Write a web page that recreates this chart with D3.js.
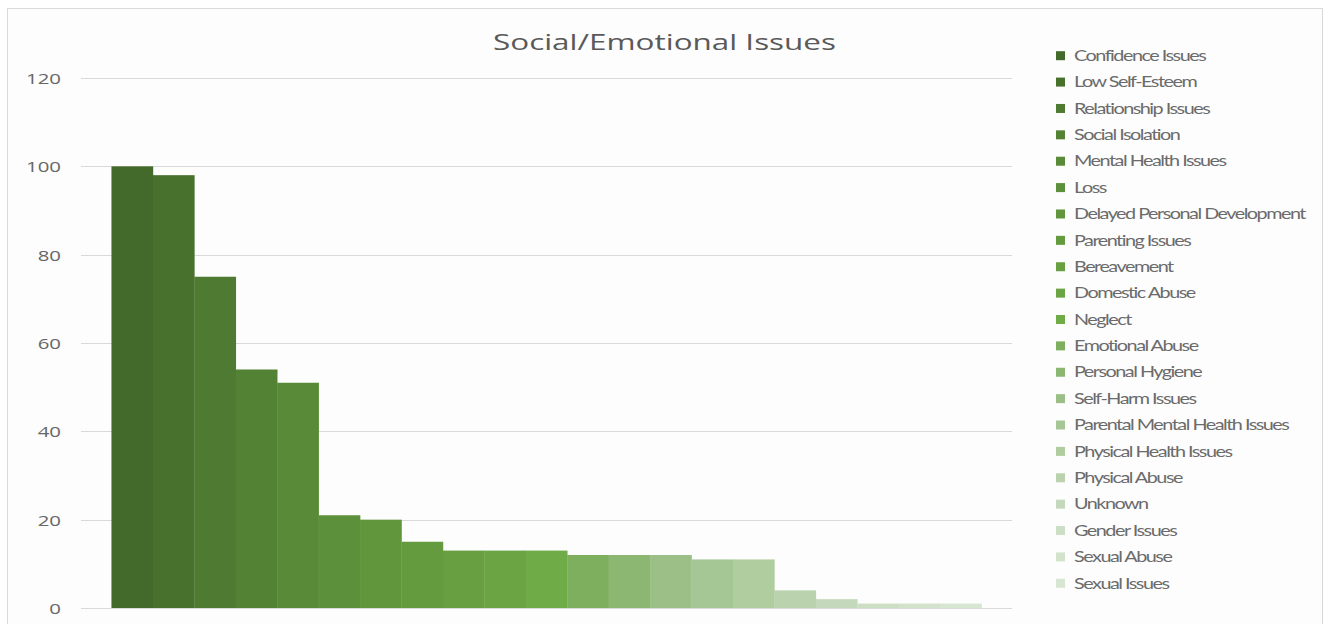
<!DOCTYPE html>
<html>
<head>
<meta charset="utf-8">
<script src="https://cdn.jsdelivr.net/npm/d3@7"></script>
<style>
  html, body { margin: 0; padding: 0; background: #ffffff; }
  svg { display: block; }
</style>
</head>
<body>
<svg id="chart" width="1329" height="624"></svg>
<script>
// Social/Emotional issues — one clustered group, one bar per issue
const categories = [
  "Confidence Issues", "Low Self-Esteem", "Relationship Issues", "Social Isolation",
  "Mental Health Issues", "Loss", "Delayed Personal Development", "Parenting Issues",
  "Bereavement", "Domestic Abuse", "Neglect", "Emotional Abuse", "Personal Hygiene",
  "Self-Harm Issues", "Parental Mental Health Issues", "Physical Health Issues",
  "Physical Abuse", "Unknown", "Gender Issues", "Sexual Abuse", "Sexual Issues"
];
const values = [100, 98, 75, 54, 51, 21, 20, 15, 13, 13, 13, 12, 12, 12, 11, 11, 4, 2, 1, 1, 1];
const colors = [
  "#446a2b", "#49712e", "#4f7a31", "#538234", "#588a37", "#5d903a", "#61963c",
  "#659b3f", "#68a041", "#6ba443", "#6fab46", "#7daf5e", "#8bb773", "#9bbf86",
  "#a5c695", "#b0cda0", "#bad2ae", "#c4d8bb", "#ccdfc4", "#d2e2cb", "#d7e6d1"
];
const yTicks = [0, 20, 40, 60, 80, 100, 120];
const title = "Social/Emotional Issues";

const svg = d3.select("#chart");
const W = 1329, H = 624;

// chart area background and frame
svg.append("rect").attr("x", 0).attr("y", 0).attr("width", W).attr("height", H).attr("fill", "#ffffff");
svg.append("rect")
  .attr("x", 7.5).attr("y", 8.5).attr("width", 1315).attr("height", 640)
  .attr("fill", "#fdfdfd").attr("stroke", "#d9d9d9").attr("stroke-width", 1);

const plot = { left: 81, right: 1012, top: 78, bottom: 608 };

const y = d3.scaleLinear().domain([0, 120]).range([plot.bottom, plot.top]);
const x = d3.scaleBand().domain(categories).range([plot.left, plot.right])
  .paddingInner(0).paddingOuter(0.735);

// horizontal gridlines
svg.append("g").selectAll("line").data(yTicks).join("line")
  .attr("x1", plot.left).attr("x2", plot.right)
  .attr("y1", d => Math.round(y(d)) + 0.5).attr("y2", d => Math.round(y(d)) + 0.5)
  .attr("stroke", "#d9d9d9").attr("stroke-width", 1);

// y axis labels (no axis line), widened so "120" spans its slot
const yAxis = d3.axisLeft(y).tickValues(yTicks).tickSize(0).tickPadding(0);
const yg = svg.append("g").attr("transform", `translate(61,0)`).call(yAxis);
yg.select(".domain").remove();
const tickText = yg.selectAll("text")
  .attr("font-family", "'Open Sans', sans-serif")
  .attr("font-size", 15)
  .attr("fill", "#666666")
  .attr("dy", "0.36em")
  .attr("x", 0);
const widest = tickText.filter(d => d === 120).node();
const tx = 35 / widest.getComputedTextLength();
tickText.attr("transform", `scale(${tx},1)`);

// bars
svg.append("g").selectAll("rect").data(values).join("rect")
  .attr("x", (d, i) => x(categories[i]))
  .attr("width", x.bandwidth() + 0.3)
  .attr("y", d => y(d))
  .attr("height", d => y(0) - y(d))
  .attr("fill", (d, i) => colors[i]);

// title, stretched to its set width
const titleEl = svg.append("text")
  .attr("x", 493).attr("y", 50)
  .attr("font-family", "'Open Sans', sans-serif")
  .attr("font-size", 21)
  .attr("fill", "#595959")
  .text(title);
titleEl.attr("textLength", 343).attr("lengthAdjust", "spacingAndGlyphs");

// legend
const legend = svg.append("g");
const rowStep = 26.38;
const rows = legend.selectAll("g").data(categories).join("g")
  .attr("transform", (d, i) => `translate(1056,${55.7 + i * rowStep})`);
rows.append("rect")
  .attr("x", 0).attr("y", -4.5).attr("width", 9).attr("height", 9)
  .attr("fill", (d, i) => colors[i]);
const labels = rows.append("text")
  .attr("x", 0).attr("y", 0).attr("dy", "0.36em")
  .attr("font-family", "Lato, sans-serif")
  .attr("font-size", 14.5)
  .attr("fill", "#6b6b6b")
  .style("letter-spacing", "-1.1px")
  .text(d => d);
// labels widened uniformly so the longest one spans its column
const ref = labels.filter(d => d === "Delayed Personal Development").node();
const sx = 231 / ref.getComputedTextLength();
labels.attr("transform", `translate(18,0) scale(${sx},1)`);
</script>
</body>
</html>
